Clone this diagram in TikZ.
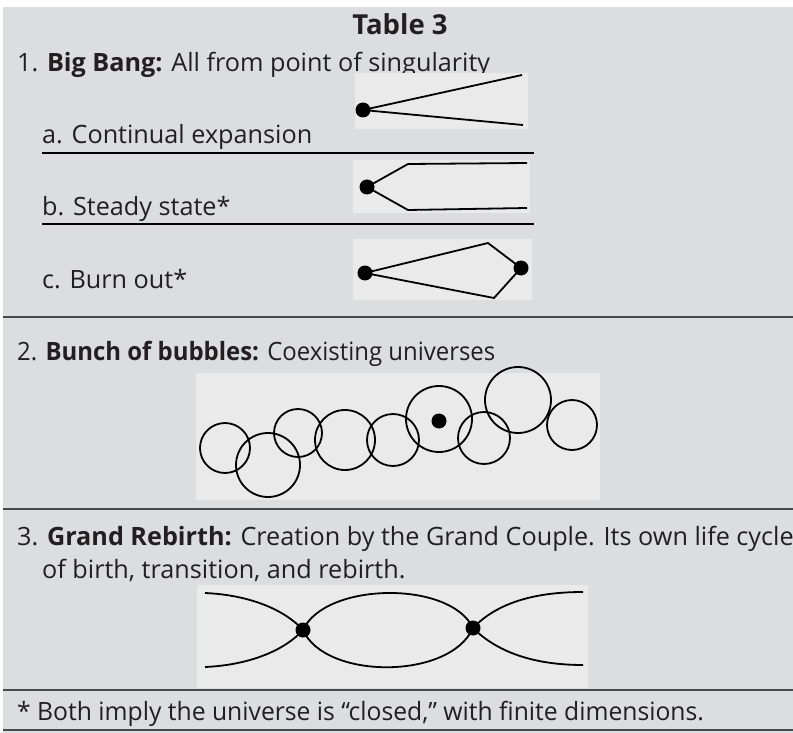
\documentclass[tikz,border=0pt]{standalone}
\usepackage{fontspec}
\setmainfont{Open Sans}
\newfontfamily\condfont[FakeStretch=0.95]{Open Sans}
\newfontfamily\notefont[FakeStretch=0.98]{Open Sans}
\usetikzlibrary{positioning,calc}
\definecolor{tablegray}{HTML}{DCDDDF}
\definecolor{panelgray}{HTML}{EAEAEA}
\definecolor{rulegray}{HTML}{4A4A4A}
\definecolor{inkgray}{HTML}{231F20}

\begin{document}
\begin{tikzpicture}[
            x=1pt, y=-1pt,
            txt/.style={anchor=base west, inner sep=0pt, text=inkgray, font=\fontsize{25.2}{30}\selectfont},
            ctxt/.style={txt, font=\condfont\fontsize{25.2}{30}\selectfont},
            dot/.style={circle, fill=black, inner sep=0pt, minimum size=15pt},
            panel/.style={fill=panelgray, draw=none},
            curve/.style={line width=1.8pt, black},
            bubble/.style={circle, draw=black, line width=1.8pt, inner sep=0pt},
            rule/.style={line width=1.8pt, rulegray},
            uline/.style={line width=1.4pt, black}
        ]
        \useasboundingbox (0,0) rectangle (793,733);
        \fill[white] (0,0) rectangle (793,733);
        \fill[tablegray] (3,7) rectangle (793,733);

        \node[anchor=base, inner sep=0pt, text=inkgray, font=\bfseries\fontsize{27.5}{32}\selectfont] (title) at (400,35) {Table 3};
        \node[txt] (bang) at (17,72) {1. \textbf{Big Bang:} All from point of singularity};
        \node[txt] (cont) at (42,143.5) {a. Continual expansion};
        \node[txt] (steady) at (42,215.5) {b. Steady state*};
        \node[txt] (burn) at (42,288.5) {c. Burn out*};
        \draw[uline] (42,153) -- (534,153);
        \draw[uline] (42,224) -- (534,224);

        \fill[panel] (355,73) rectangle (528,129);
        \fill[panel] (353,160) rectangle (530,213);
        \fill[panel] (353,239) rectangle (532,300);

        \node[dot] (bangdot) at (363,110) {};
        \coordinate (bangup) at (522,75);
        \coordinate (banglow) at (523,125);
        \draw[curve] (bangup) -- (bangdot.center) -- (banglow);

        \node[dot] (steadydot) at (367,187) {};
        \draw[curve] (527,163) -- (408,164) -- (steadydot.center) -- (408,210) -- (527,208);

        \node[dot] (burnl) at (365,273) {};
        \node[dot] (burnr) at (521,268) {};
        \draw[curve] (burnl.center) -- (488,243) -- (burnr.center) -- (494,298) -- cycle;

        \draw[rule] (3,317) -- (793,317);
        \node[ctxt] (bubbles) at (17,360.5) {2. \textbf{Bunch of bubbles:} Coexisting universes};
        \fill[panel] (196,373) rectangle (600,500);
        \foreach \cx/\cy/\r [count=\i] in {225/448/25, 268/465/32, 298/433/24, 345/440/30, 393/440/26,
                                         439/419/33, 484/438/26, 518/400/33, 572/425/25}
            \node[bubble, minimum size=2*\r pt] (b\i) at (\cx,\cy) {};
        \node[dot] (bubdot) at (439,421) {};

        \draw[rule] (3,509) -- (793,509);
        \node[txt] (rebirth) at (17,545.5) {3. \textbf{Grand Rebirth:} Creation by the Grand Couple. Its own life cycle};
        \node[txt] (rebirthb) at (42,578.5) {of birth, transition, and rebirth.};
        \fill[panel] (197,585) rectangle (588,688);
        \node[dot] (reb1) at (303,630) {};
        \node[dot] (reb2) at (473,628) {};
        \draw[curve] (205,593) .. controls (250,595) and (285,610) .. (reb1.center);
        \draw[curve] (205,667) .. controls (250,665) and (285,650) .. (reb1.center);
        \draw[curve] (reb1.center) .. controls (325,582) and (450,580) .. (reb2.center);
        \draw[curve] (reb1.center) .. controls (325,680) and (450,680) .. (reb2.center);
        \draw[curve] (reb2.center) .. controls (495,605) and (530,592) .. (583,592);
        \draw[curve] (reb2.center) .. controls (495,650) and (530,665) .. (583,665);

        \draw[rule] (3,690) -- (793,690);
        \node[txt, font=\notefont\fontsize{25.2}{30}\selectfont] (note) at (17,720.5) {* Both imply the universe is “closed,” with finite dimensions.};
        \draw[rule] (3,730) -- (793,730);
    \end{tikzpicture}
\end{document}
